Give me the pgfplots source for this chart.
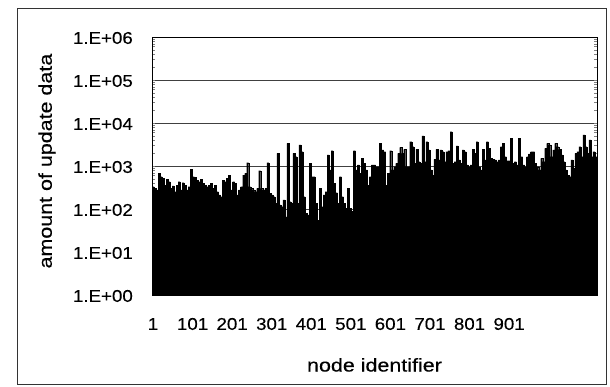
\documentclass[border=0pt]{standalone}
\usepackage{pgfplots}
\pgfplotsset{compat=1.18}
\usepackage{pgfplotstable}
\usepackage{fontspec}
\setmainfont{Liberation Sans}
\newfontfamily\tickfont{Liberation Sans}[FakeStretch=1.1, FakeBold=0.3]
\newfontfamily\labelfont{Liberation Sans}[FakeStretch=1.16, FakeBold=0.3]
\pgfplotstableread{
v
331
303
277
675
565
517
361
490
432
303
343
253
361
432
277
409
361
277
331
836
565
545
472
432
490
395
355
331
361
395
303
355
253
212
194
472
432
517
617
277
432
395
212
277
331
617
675
1196
331
303
277
253
303
779
303
277
303
1196
231
212
194
135
1971
124
113
162
66
3366
148
135
1971
1648
135
3080
2155
194
79
73
1154
565
565
135
55
303
113
212
253
1803
807
2274
395
240
135
565
194
135
104
303
104
87
2274
807
1055
675
1508
1154
807
361
565
1055
1055
965
965
3366
2356
2155
361
675
2274
807
965
1154
1971
2718
1971
2443
965
965
3680
2817
1154
2443
1261
1154
4990
1261
3680
2356
807
617
1430
2443
1379
2356
2155
1261
2155
2274
6290
1154
1261
2918
1379
1154
2356
2155
1055
965
1055
2443
1971
3680
965
807
2443
1379
3680
2576
1508
1430
1379
1261
1379
2817
3366
1648
1330
1330
4400
1154
1261
1055
4400
1648
1055
965
1648
1901
2155
2155
1154
965
807
1508
1261
2576
3366
3080
1648
2356
3366
2817
2443
1803
1261
807
617
565
1379
883
1971
2155
2817
1648
5260
2817
1971
4025
1648
2155
1648
}\nodedata
\begin{document}
\begin{tikzpicture}
\useasboundingbox (0pt,0pt) rectangle (610pt,387pt);
\draw[line width=1pt, black!80] (17pt,2.5pt) rectangle (606.5pt,378pt);
\begin{axis}[
  at={(152pt,92pt)}, anchor=south west,
  width=445pt, height=258pt, scale only axis,
  ymode=log, ymin=1, ymax=1e6,
  xmin=-0.5, xmax=220.5,
  ytick={1,10,100,1000,10000,100000,1000000},
  yticklabels={1.E+00,1.E+01,1.E+02,1.E+03,1.E+04,1.E+05,1.E+06},
  xtick={0,19.65,39.3,58.95,78.6,98.25,117.9,137.55,157.2,176.85},
  xticklabels={1,101,201,301,401,501,601,701,801,901},
  major tick length=0pt, minor tick num=0,
  log ticks with fixed point=false,
  ymajorgrids, grid style={black!75, line width=0.8pt},
  axis line style={black, line width=0.8pt},
  yticklabel style={font=\tickfont\fontsize{17}{17}\selectfont, anchor=east, inner sep=0pt, xshift=-19pt, yshift=-1pt},
  xticklabel style={font=\tickfont\fontsize{17}{17}\selectfont, anchor=center, inner sep=0pt, yshift=-29pt},
  xlabel={node identifier},
  ylabel={amount of update data},
  label style={font=\labelfont\fontsize{18.5}{18.5}\selectfont},
  xlabel style={at={(axis description cs:0.5,-0.271)}, anchor=center},
  ylabel style={at={(axis description cs:-0.236,0.519)}, anchor=center},
]
\addplot[ybar, bar width=1, fill=black, draw=black, line width=0.2pt] table[x expr=\coordindex, y=v] {\nodedata};
\end{axis}
\end{tikzpicture}
\end{document}
